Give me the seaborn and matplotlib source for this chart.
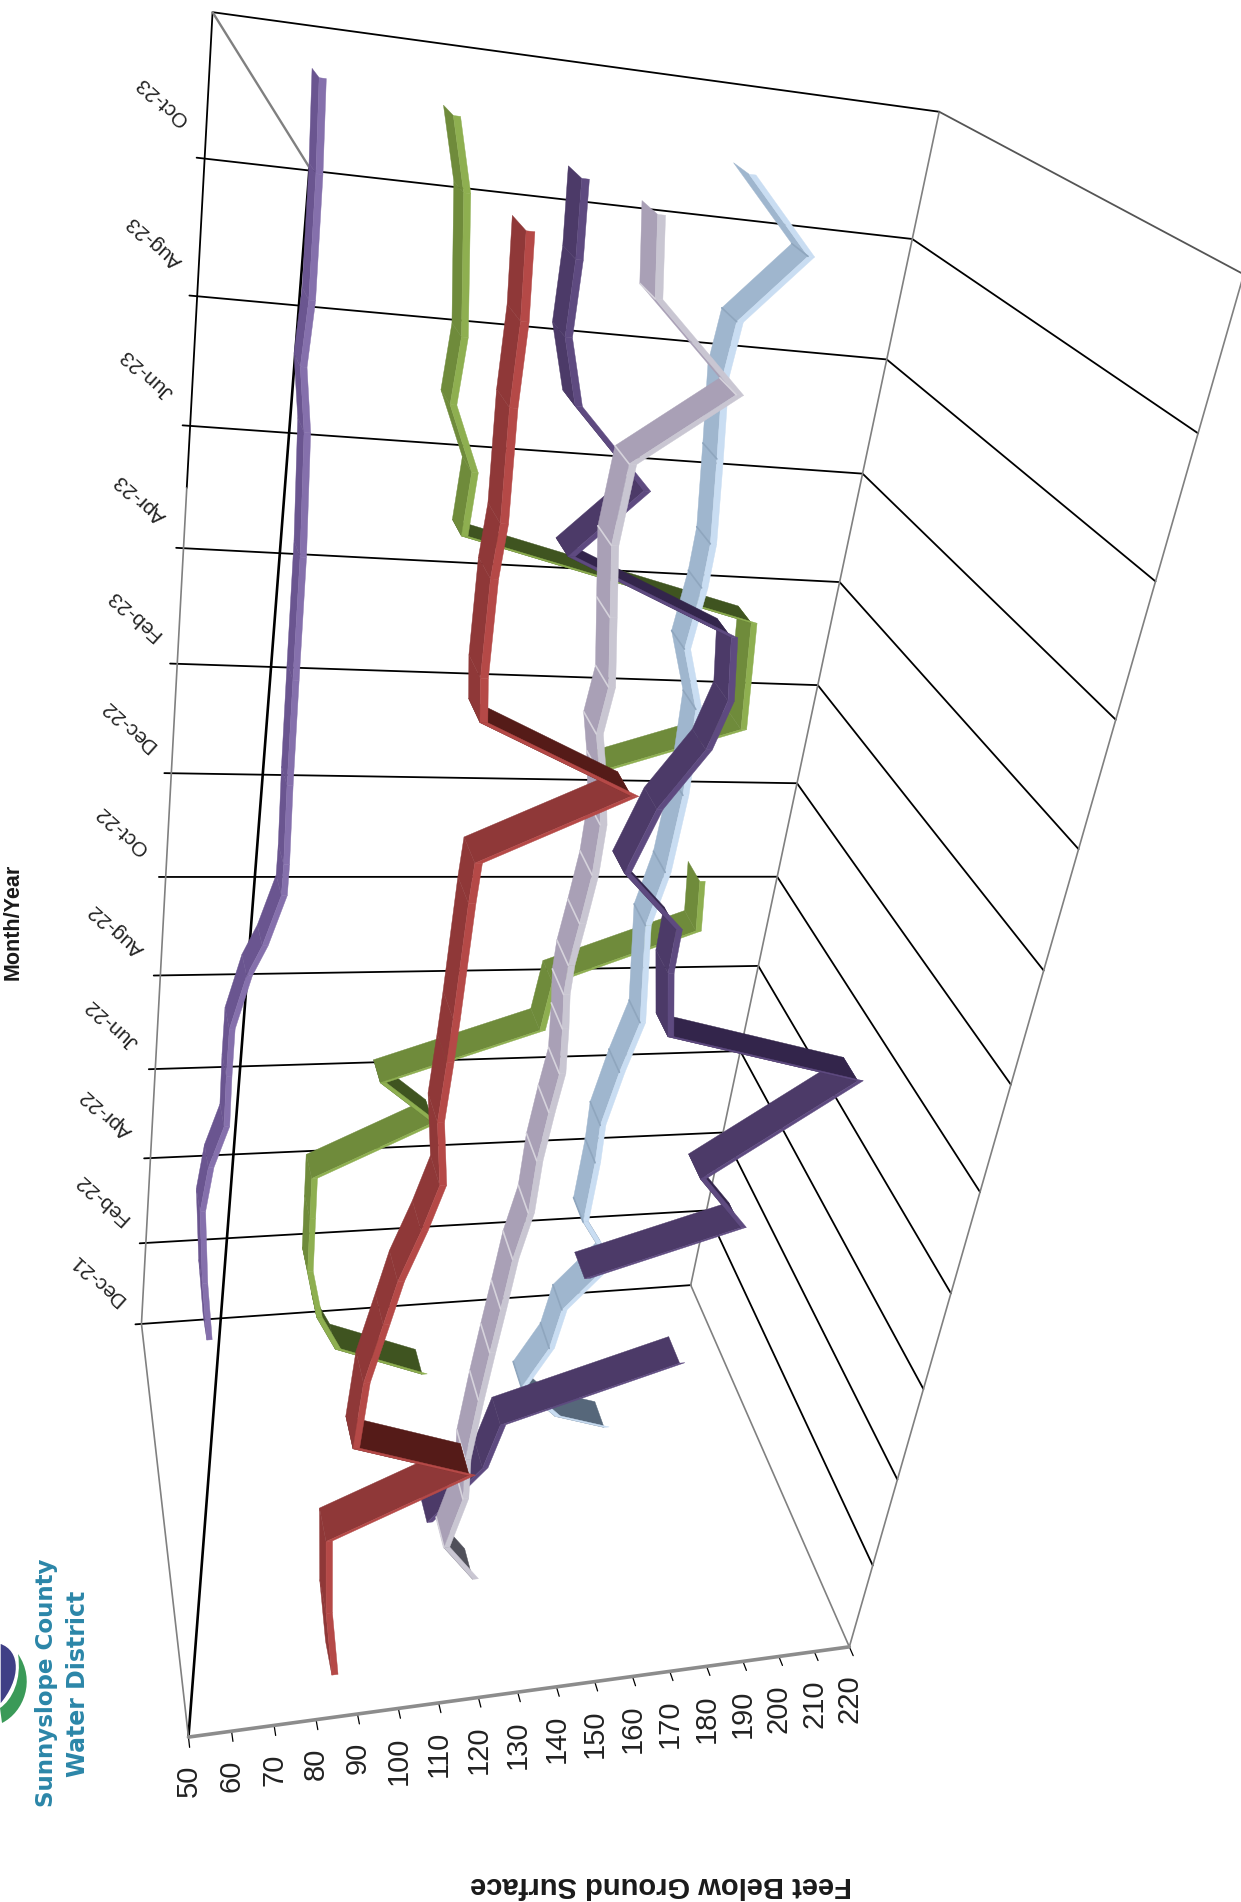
import numpy as np
import pandas as pd
import matplotlib
matplotlib.use('Agg')
import matplotlib.pyplot as plt
from matplotlib.path import Path
from matplotlib.patches import PathPatch
import seaborn as sns

# month position along the axis (0 = start of Dec-21 band, 2 per labelled band), feet below surface
red_month = [0.45, 1.9, 3.5, 4.6, 5.4, 6.7, 7.8, 8.6, 9.5, 10.3, 11.4, 12.4, 13.1, 14.9, 15.5, 16.5, 17.5, 18.1, 19.4, 20.1, 21.5, 22.5, 23.5]
red_feet = [85.0, 81.8, 79.8, 111.7, 83.5, 84.1, 86.9, 88.9, 92.6, 95.3, 93.0, 93.3, 93.4, 93.4, 93.6, 123, 91, 90, 89.5, 90, 89, 89, 88]
gray_month = [0.45, 1.3, 2.4, 3.3, 4.6, 5.6, 6.5, 7.5, 8.4, 9.4, 10.3, 11.0, 11.8, 12.4, 12.9, 13.6, 14.4, 15.2, 16.0, 16.6, 17.3, 18.3, 19.3, 20.4, 21.4, 22.5, 23.5]
gray_feet = [125, 116, 119, 118, 119, 120, 121, 122, 124, 124, 125, 126, 125, 124, 124, 125, 126, 126, 124, 122, 123, 121, 119, 120, 139, 120, 118]
purple_month = [0.2, 1.4, 2.4, 3.5, np.nan, 5.6, 6.5, 7.6, 9.5, 10.5, 11.7, 12.5, 13.5, 14.6, 15.6, 16.4, 17.4, 18.5, 19.5, 20.6, 21.5, 22.5, 23.5]
purple_feet = [118, 131, 134, 181, np.nan, 150, 190, 176, 213, 160, 157, 157, 142, 147, 156, 159, 157, 118, 132, 115, 111, 111, 110]
blue_month = [0.5, 0.9, 1.7, 2.6, 3.5, 4.5, 5.5, 6.8, 7.6, 8.7, 9.7, 11.6, 12.6, 14.0, 15.5, 16.5, 17.5, 18.2, 19.5, 20.7, 21.5, 22.5, 23.5]
blue_feet = [173.2, 157.9, 146.6, 152.7, 154.4, 165.5, 156.0, 156.4, 156.0, 158.6, 161.7, 158.5, 161.1, 162.0, 161.3, 155.9, 157.4, 157.6, 155.6, 153.6, 154.6, 167.8, 151.7]
green_month = [0.7, 1.5, 2.3, 3.4, 4.6, 5.5, 6.6, 7.5, 8.5, 9.5, 10.5, 11.5, np.nan, 13.6, 14.4, 16.3, 17.5, 18.5, 19.5, 20.5, 22.5, 23.5]
green_feet = [124.9, 99.1, 93.0, 89.2, 88.4, 87.8, 118.4, 103.1, 143.8, 145.1, 182.0, 180.4, np.nan, 149.4, 183.6, 180.9, 107.2, 107.8, 101.2, 102.0, 99.0, 95.1]
violet_month = [0.5, 1.9, 3.6, 4.6, 5.5, 6.6, 7.6, 8.7, 9.3, 10.3, 10.9, 12.4, 14.3, 16.4, 18.4, 19.4, 20.4, 22.2, 23.5]
violet_feet = [67.3, 64.9, 62.9, 64.3, 67.7, 67.3, 67.2, 70.6, 74.0, 77.8, 77.7, 76.9, 76.2, 75.5, 74.1, 72.1, 72.8, 72.2, 71.3]

month_labels = ['Dec-21', 'Feb-22', 'Apr-22', 'Jun-22', 'Aug-22', 'Oct-22', 'Dec-22', 'Feb-23', 'Apr-23', 'Jun-23', 'Aug-23', 'Oct-23']
feet_ticks = list(range(50, 221, 10))

sns.set_theme(style='white')
plt.rcParams['font.family'] = ['Liberation Sans', 'DejaVu Sans']

W, H = 1241, 1902
fig, ax = plt.subplots(figsize=(W / 100, H / 100), dpi=100)
fig.subplots_adjust(0, 0, 1, 1)

# camera fitted from the eight corners of the chart box
corners = [((0, 50, 0), (188, 1737)), ((0, 220, 0), (850, 1647)), ((0, 50, 1), (142, 1324)), ((0, 220, 1), (690, 1285)),
           ((24, 50, 1), (212, 12)), ((24, 220, 1), (940, 112)), ((24, 50, 0), (310, 168)), ((24, 220, 0), (1243, 274))]
rows, rhs = [], []
for (u, v, w), (x, y) in corners:
    rows.append([u, v, w, 1, 0, 0, 0, 0, -x * u, -x * v, -x * w])
    rhs.append(x)
    rows.append([0, 0, 0, 0, u, v, w, 1, -y * u, -y * v, -y * w])
    rhs.append(y)
sol = np.linalg.lstsq(np.array(rows, float), np.array(rhs, float), rcond=None)[0]
P = np.append(sol, 1).reshape(3, 4)


def proj(u, v, w):
    h = P @ np.array([u, v, w, 1.0])
    return h[:2] / h[2]


# box lines: colour, width, list of 3d paths
frame = [
    ('#000000', 1.3, [[(u, 48.3, 1), (u, 220, 1), (u, 220, 0)] for u in range(2, 23, 2)]),
    ('#000000', 1.3, [[(0, 48.3, 1), (0, 220, 1)], [(17, 50, 1), (24, 50, 1), (24, 220, 1)]]),
    ('#000000', 1.9, [[(0, 50, 0), (24, 50, 0)]]),
    ('#000000', 0.9, [[(0, v, 0), (0, v, -0.02)] for v in feet_ticks]),
    ('#808080', 1.2, [[(0, 50, 0), (0, 50, 1), (17, 50, 1)], [(0, 220, 1), (24, 220, 1)], [(0, 220, 1), (0, 220, 0)], [(0, 220, 0), (24, 220, 0)]]),
    ('#808080', 1.7, [[(24, 50, 1), (24, 50, 0)]]),
    ('#8c8c8c', 2.6, [[(0, 50, 0), (0, 220, 0)]]),
    ('#555555', 1.3, [[(24, 220, 1), (24, 220, 0)]]),
]
for color, lw, paths in frame:
    recs = []
    for i, path in enumerate(paths):
        for p in path:
            x, y = proj(*p)
            recs.append({'x': x, 'y': y, 'seg': i})
    sns.lineplot(data=pd.DataFrame(recs), x='x', y='y', units='seg', estimator=None, sort=False,
                 color=color, lw=lw, ax=ax, legend=False, zorder=1)

half = 0.036
thick = 1.5
series = [
    (violet_month, violet_feet, 0.917, '#6A5590', '#8570AC', '#3F3160', None),
    (green_month, green_feet, 0.75, '#6F8B3B', '#8EAF50', '#3F5420', None),
    (blue_month, blue_feet, 0.583, '#9FB6CE', '#C9DDF2', '#56677A', '#8FA6BE'),
    (purple_month, purple_feet, 0.417, '#4C3A68', '#5E4A80', '#33254B', None),
    (gray_month, gray_feet, 0.25, '#A9A0B6', '#C9C6D2', '#50505A', '#D6D3DC'),
    (red_month, red_feet, 0.083, '#8F3838', '#B54947', '#551B18', None),
]
z = 2
for months, feet, w, face, strip, dark, joint in series:
    for j in range(len(months) - 1):
        u1, v1, u2, v2 = months[j], feet[j] - thick / 2, months[j + 1], feet[j + 1] - thick / 2
        if np.isnan(u1) or np.isnan(u2):
            continue
        a, b = proj(u1, v1, w - half), proj(u1, v1, w + half)
        c, d = proj(u2, v2, w + half), proj(u2, v2, w - half)
        e, f = proj(u2, v2 + thick, w - half), proj(u1, v1 + thick, w - half)
        cross = (b - a)[0] * (c - a)[1] - (b - a)[1] * (c - a)[0]
        col = dark if cross < 0 else face
        q = np.array([a, b, c, d])
        ax.fill(q[:, 0], q[:, 1], color=col, lw=0.3, zorder=z)
        s = np.array([a, d, e, f])
        ax.fill(s[:, 0], s[:, 1], color=strip, lw=0.3, zorder=z)
        z += 0.01
        if joint and j > 0 and cross >= 0:
            ax.plot([a[0], b[0]], [a[1], b[1]], color=joint, lw=1.2, zorder=z)
    z += 1

# tick labels
for v in feet_ticks:
    x, y = proj(0, v, 0)
    ax.text(x, y + 28, str(v), rotation=90, ha='center', va='top', fontsize=21, color='#222222', zorder=50)
for i, lab in enumerate(month_labels):
    u = 2 * i + 1
    x, y = proj(u, 50, 1)
    ax.text(x - 46, y - 4 + (u - 1) * 19 / 22, lab, rotation=138, rotation_mode='anchor', ha='center', va='center',
            fontsize=15, color='#222222', zorder=50)

ax.text(13, 922, 'Month/Year', rotation=90, ha='center', va='center', fontsize=15.5, fontweight='bold', color='#1a1a1a')
ax.text(661, 1885, 'Feet Below Ground Surface', rotation=180, ha='center', va='center', fontsize=21, fontweight='bold', color='#1a1a1a')

# logo
ax.text(47, 1683, 'Sunnyslope County', rotation=90, ha='center', va='center', fontsize=16.6, fontweight='bold',
        family='DejaVu Sans', color='#2B86A8')
ax.text(78, 1684, 'Water District', rotation=90, ha='center', va='center', fontsize=17, fontweight='bold',
        family='DejaVu Sans', color='#2B86A8')
C4 = Path.CURVE4
green_logo = Path([(2, 1723), (24, 1712), (36, 1680), (18, 1654), (22, 1680), (12, 1700), (0, 1708), (2, 1723)],
                  [Path.MOVETO, C4, C4, C4, C4, C4, C4, Path.CLOSEPOLY])
blue_logo = Path([(0, 1643), (22, 1650), (22, 1680), (0, 1705), (0, 1643)], [Path.MOVETO, C4, C4, C4, Path.CLOSEPOLY])
ax.add_patch(PathPatch(green_logo, fc='#3A9A58', ec='none'))
ax.add_patch(PathPatch(blue_logo, fc='#3F3F86', ec='white', lw=1))

ax.set_xlim(0, W)
ax.set_ylim(H, 0)
ax.set_axis_off()
fig.savefig('out.png', dpi=100)
